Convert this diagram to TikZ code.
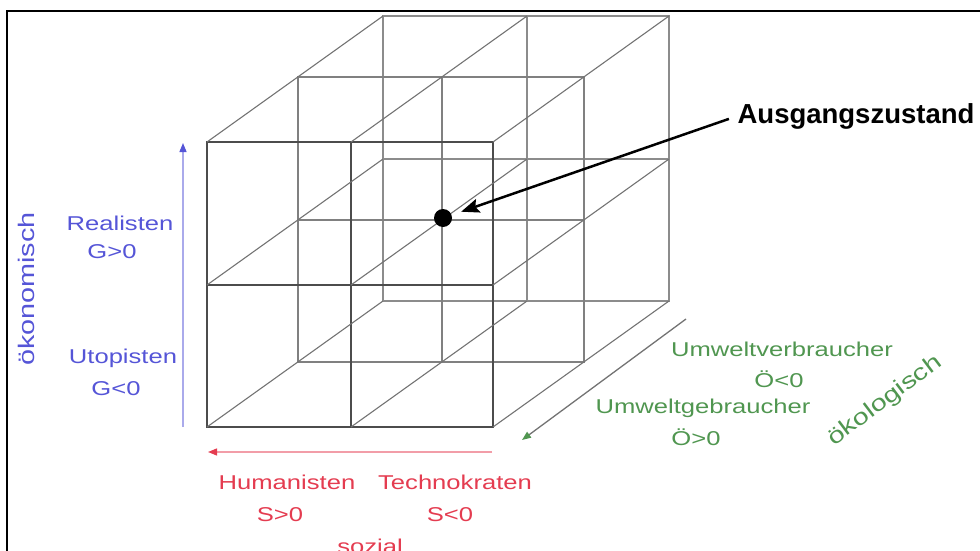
\documentclass[tikz,border=0pt]{standalone}
\usepackage{fontspec}
\setmainfont{Liberation Sans}
\newfontfamily\widesans[FakeStretch=1.28]{Liberation Sans}
\usetikzlibrary{arrows.meta}

\definecolor{oekoblue}{RGB}{85,85,215}
\definecolor{sozred}{RGB}{228,60,80}
\definecolor{oekogreen}{RGB}{80,150,80}

\tikzset{
  lbl/.style={font=\widesans\fontsize{20}{22}\selectfont, text=#1, anchor=base, inner sep=0pt},
  axislbl/.style={font=\widesans\fontsize{22.5}{24}\selectfont, text=#1, anchor=center, inner sep=0pt},
  axis/.style={draw=#1!50, line width=1.3pt, -{Triangle[length=9pt,width=7pt,color=#1]}},
  cell/.style={draw=#1, line width=1.1pt}
}

\begin{document}
\begin{tikzpicture} [x=1pt,y=-1pt]

\useasboundingbox (0,0) rectangle (980,551);

%\draw [step=50, dotted] (0,0) grid (980,551);

\draw [line width=2.5pt] (7,551) -- (7,11) -- (980,11);

% the three layers, back to front
\foreach \dx/\dy/\col in {176/-126/black!45, 91/-65/black!50, 0/0/black!70} {
  \begin{scope}[shift={(\dx,\dy)}]
    \draw [cell=\col] (207,142) rectangle (493,427);
    \draw [cell=\col] (351,142) -- (351,427);
    \draw [cell=\col] (207,285) -- (493,285);
  \end{scope}
}
\foreach \x in {207,351,493}
  \foreach \y in {142,285,427}
    \draw [cell=black!55] (\x,\y) -- ++(176,-126);

\node [circle, fill=black, inner sep=0pt, minimum size=18pt] (state) at (443,218) {};
\node [font=\bfseries\fontsize{27.5}{30}\selectfont, anchor=base, inner sep=0pt] (ausgang) at (856,123) {Ausgangszustand};
\draw [line width=2.5pt, -{Stealth[length=18pt,width=14pt,inset=3pt]}, shorten <=9pt, shorten >=10pt] (ausgang.west) -- (state);

\coordinate (gbot) at (183,427);
\coordinate (gtop) at (183,143);
\draw [axis=oekoblue] (gbot) -- (gtop);
\coordinate (sright) at (492,452);
\coordinate (sleft) at (208,452);
\draw [axis=sozred] (sright) -- (sleft);
\coordinate (oback) at (686,319);
\coordinate (ofront) at (522,440);
\draw [axis=oekogreen, draw=black!55] (oback) -- (ofront);

\node [axislbl=oekoblue, rotate=90] (oekonom) at (26,289) {ökonomisch};
\node [lbl=oekoblue] (real) at (120,230) {Realisten};
\node [lbl=oekoblue] (greal) at (112,258) {G>0};
\node [lbl=oekoblue] (utop) at (123,363) {Utopisten};
\node [lbl=oekoblue] (gutop) at (116,395) {G<0};

\node [lbl=sozred] (human) at (287,489) {Humanisten};
\node [lbl=sozred] (shuman) at (280,521) {S>0};
\node [lbl=sozred] (techno) at (455,489) {Technokraten};
\node [lbl=sozred] (stechno) at (450,521) {S<0};
\node [lbl=sozred] (sozial) at (370,553) {sozial};

\node [lbl=oekogreen] (verbr) at (782,356) {Umweltverbraucher};
\node [lbl=oekogreen] (overbr) at (779,387) {Ö<0};
\node [lbl=oekogreen] (gebr) at (703,413) {Umweltgebraucher};
\node [lbl=oekogreen] (ogebr) at (696,445) {Ö>0};
\node [axislbl=oekogreen, rotate=37] (oekolog) at (885,401) {ökologisch};

\end{tikzpicture}
\end{document}
